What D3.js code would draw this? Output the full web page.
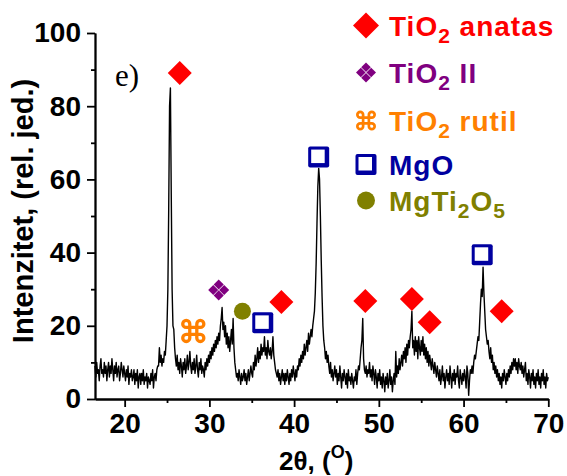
<!DOCTYPE html>
<html><head><meta charset="utf-8">
<script src="https://cdn.jsdelivr.net/npm/d3@7"></script>
<style>
html,body{margin:0;padding:0;background:#fff;}
svg{display:block;}
</style>
</head><body>
<svg id="chart" width="567" height="476"></svg>
<script>
// ---- data ----
const twoThetaStart = 16.5;
const twoThetaStep = 0.1;
const intensity = [
 9,6,10,7,8,
 5,9,11,7,8,6,10,7,9,5,
 8,10,6,9,7,11,8,5,9,7,
 10,6,8,9,5,7,10,8,6,9,
 7,5,8,6,9,4,7,6,8,5,
 6,8,4,7,5,8,3,6,7,4,
 7,5,8,4,6,5,7,3,6,5,
 4,7,5,8,3,6,7,5,8,9,
 9,14,10,12,9,11,10,13,12,16,
 20,30,52,80,85,56,30,20,19,14,
 11,9,12,8,10,7,11,9,6,10,
 8,11,7,9,12,8,10,13,9,7,
 10,8,11,7,9,12,8,6,10,8,
 11,7,9,8,6,10,8,11,9,12,
 10,13,11,14,12,15,13,16,14,17,
 15,18,16,20,22,25,19,21,17,20,
 15,18,14,17,13,16,19,15,22,14,
 10,8,6,7,5,8,6,4,7,5,
 6,8,5,7,4,6,8,5,7,9,
 7,6,10,8,12,9,11,14,10,13,
 11,15,12,14,13,17,12,14,11,16,
 13,12,14,11,13,17,12,10,8,7,
 6,8,5,7,4,6,8,5,7,4,
 7,5,8,6,4,7,5,8,6,9,
 7,5,8,6,9,8,11,9,12,10,
 13,11,15,12,14,16,13,18,15,17,
 19,17,20,22,24,29,37,48,58,63,
 60,50,38,28,20,16,14,11,13,10,
 12,9,7,10,6,8,5,7,9,6,
 8,4,7,5,9,6,3,7,5,8,
 6,4,7,3,8,5,6,4,7,5,
 3,6,5,8,4,7,9,8,11,14,
 16,22,11,8,7,9,6,8,7,10,
 6,8,5,9,7,4,8,6,3,7,
 5,8,4,6,3,7,5,2,6,4,
 7,3,5,8,4,6,2,5,7,4,
 13,6,9,7,11,8,10,12,9,13,
 11,14,10,15,12,16,14,17,19,24,
 14,16,12,17,13,16,11,17,14,12,
 16,13,17,12,15,11,14,10,13,9,
 12,10,8,11,9,7,10,8,6,9,
 7,5,8,4,6,9,5,7,3,6,
 8,5,7,4,9,6,3,7,5,8,
 4,7,6,9,5,3,8,6,4,7,
 5,8,6,3,9,7,1,5,8,7,
 9,7,10,12,11,13,15,17,16,21,
 26,30,28,36,29,24,19,17,15,16,
 13,11,14,10,12,8,10,7,9,6,
 8,5,7,4,6,3,7,5,8,6,
 4,7,5,8,6,9,7,10,8,11,
 9,11,8,10,7,11,9,8,10,7,
 9,6,8,10,5,7,4,8,6,3,
 7,5,8,4,6,3,7,5,8,4,
 6,3,7,5,8,4,6,3,7,5,6
];
const twoTheta = intensity.map((_, i) => +(twoThetaStart + i * twoThetaStep).toFixed(2));

const xTicks = [20, 30, 40, 50, 60, 70];
const xMinorTicks = [25, 35, 45, 55, 65];
const yTicks = [0, 20, 40, 60, 80, 100];
const yMinorTicks = [10, 30, 50, 70, 90];

// phase markers placed on the pattern
const markerPhase = ["anatas","II","rutil","MgTi2O5","MgO","anatas","MgO","anatas","anatas","anatas","MgO","anatas"];
const markerX =     [26.5, 31.1, 28.1, 33.9, 36.3, 38.5, 42.9, 48.4, 53.9, 56.0, 62.2, 64.5];
const markerY =     [89.1, 29.8, 18.6, 24.0, 20.8, 26.5, 66.1, 26.8, 27.3, 21.0, 39.4, 24.0];

const legendPhase = ["anatas","II","rutil","MgO","MgTi2O5"];
const legendLabel = ["TiO_2 anatas","TiO_2 II","TiO_2 rutil","MgO","MgTi_2O_5"];
const phaseColor = {anatas:"#ff0000", II:"#800080", rutil:"#ff8000", MgO:"#0000a0", MgTi2O5:"#808000"};

// ---- drawing ----
const svg = d3.select("#chart");
const FONT = "'Liberation Sans', Arial, sans-serif";
const x = d3.scaleLinear().domain([16.5, 70]).range([95, 548.3]);
const y = d3.scaleLinear().domain([0, 100]).range([399, 33]);

// line
svg.append("path")
  .datum(twoTheta.map((t, i) => [t, intensity[i]]))
  .attr("fill", "none").attr("stroke", "#000").attr("stroke-width", 1.4)
  .attr("stroke-linejoin", "round")
  .attr("d", d3.line().x(d => x(d[0])).y(d => y(d[1])));

// axes
function styleAxis(g){
  g.selectAll("path.domain").attr("stroke", "#000").attr("stroke-width", 1.8);
  g.selectAll(".tick line").attr("stroke", "#000").attr("stroke-width", 1.8);
  g.selectAll(".tick text").attr("font-family", FONT).attr("font-weight", "bold")
    .attr("font-size", 28).attr("fill", "#000");
}
const gx = svg.append("g").attr("transform", "translate(0,399)")
  .call(d3.axisBottom(x).tickValues(xTicks).tickSize(8).tickSizeOuter(0).tickPadding(6).tickFormat(d3.format("d")));
styleAxis(gx);
const gxm = svg.append("g").attr("transform", "translate(0,399)")
  .call(d3.axisBottom(x).tickValues(xMinorTicks).tickSize(4).tickSizeOuter(0).tickFormat(""));
styleAxis(gxm);
const gy = svg.append("g").attr("transform", "translate(95,0)")
  .call(d3.axisLeft(y).tickValues(yTicks).tickSize(8).tickSizeOuter(0).tickPadding(6).tickFormat(d3.format("d")));
styleAxis(gy);
const gym = svg.append("g").attr("transform", "translate(95,0)")
  .call(d3.axisLeft(y).tickValues(yMinorTicks).tickSize(4).tickSizeOuter(0).tickFormat(""));
styleAxis(gym);

// axis titles
svg.append("text").attr("transform", "translate(33,211) rotate(-90)")
  .attr("text-anchor", "middle").attr("font-family", FONT).attr("font-weight", "bold")
  .attr("font-size", 29).attr("fill", "#000").text("Intenzitet, (rel. jed.)");
const xt = svg.append("text").attr("x", 279).attr("y", 470)
  .attr("font-family", FONT).attr("font-weight", "bold").attr("font-size", 26).attr("fill", "#000");
xt.append("tspan").text("2θ, (");
xt.append("tspan").attr("font-size", 18).attr("dy", -12).text("O");
xt.append("tspan").attr("dy", 12).text(")");

// panel label
svg.append("text").attr("x", 115).attr("y", 86).attr("font-family", "'Liberation Serif', 'Times New Roman', serif")
  .attr("font-size", 31).attr("fill", "#000").text("e)");

// marker drawing
function drawMarker(g, phase, s){
  const c = phaseColor[phase];
  if (phase === "anatas") {
    const h = s / 2;
    g.append("path").attr("d", `M0,${-h}L${h},0L0,${h}L${-h},0Z`).attr("fill", c);
  } else if (phase === "II") {
    const o = s * 0.26, h = s * 0.24;
    [[0,-o],[o,0],[0,o],[-o,0]].forEach(([cx, cy]) => {
      g.append("path").attr("d", `M${cx},${cy-h}L${cx+h},${cy}L${cx},${cy+h}L${cx-h},${cy}Z`).attr("fill", c);
    });
  } else if (phase === "rutil") {
    const h = s * 0.16, r = s * 0.16;
    const p = d3.path();
    [[1,1],[-1,1],[1,-1],[-1,-1]].forEach(([sx, sy]) => {
      const cx = sx * (h + r), cy = sy * (h + r);
      const ang = Math.atan2(-sy, -sx);
      const a0 = ang + Math.PI / 4;
      p.moveTo(cx + r * Math.cos(a0), cy + r * Math.sin(a0));
      p.arc(cx, cy, r, a0, a0 + 1.5 * Math.PI);
    });
    p.moveTo(h, -(h + r)); p.lineTo(h, h + r);
    p.moveTo(-h, -(h + r)); p.lineTo(-h, h + r);
    p.moveTo(-(h + r), h); p.lineTo(h + r, h);
    p.moveTo(-(h + r), -h); p.lineTo(h + r, -h);
    g.append("path").attr("d", p.toString()).attr("fill", "none").attr("stroke", c).attr("stroke-width", s * 0.15);
  } else if (phase === "MgO") {
    const h = s / 2;
    g.append("rect").attr("x", -h).attr("y", -h).attr("width", s).attr("height", s).attr("rx", 2).attr("fill", c);
    g.append("rect").attr("x", -h + 3).attr("y", -h + 3).attr("width", s - 7.5).attr("height", s - 7.5).attr("fill", "#fff");
  } else if (phase === "MgTi2O5") {
    g.append("circle").attr("r", s / 2).attr("fill", c);
  }
}
const markerSize = {anatas: 24, II: 21, rutil: 22, MgO: 21, MgTi2O5: 17};
markerPhase.forEach((ph, i) => {
  const g = svg.append("g").attr("transform", `translate(${x(markerX[i])},${y(markerY[i])})`);
  drawMarker(g, ph, markerSize[ph]);
});

// legend
const legendBaseline = [36, 83, 131, 175, 211];
const legendSize = {anatas: 26, II: 20, rutil: 18, MgO: 21, MgTi2O5: 18};
legendPhase.forEach((ph, i) => {
  const g = svg.append("g").attr("transform", `translate(366,${legendBaseline[i] - 10.5})`);
  drawMarker(g, ph, legendSize[ph]);
  const t = svg.append("text").attr("x", 389).attr("y", legendBaseline[i])
    .attr("font-family", FONT).attr("font-weight", "bold").attr("font-size", 28)
    .attr("letter-spacing", 1).attr("fill", phaseColor[ph]);
  const parts = legendLabel[i].split(/_(\d)/);
  let shifted = false;
  parts.forEach((pt, k) => {
    if (pt === "") return;
    if (k % 2 === 1) {
      t.append("tspan").attr("font-size", 21).attr("dy", shifted ? 0 : 7).text(pt);
      shifted = true;
    } else {
      t.append("tspan").attr("dy", shifted ? -7 : 0).text(pt);
      shifted = false;
    }
  });
});
</script>
</body></html>
